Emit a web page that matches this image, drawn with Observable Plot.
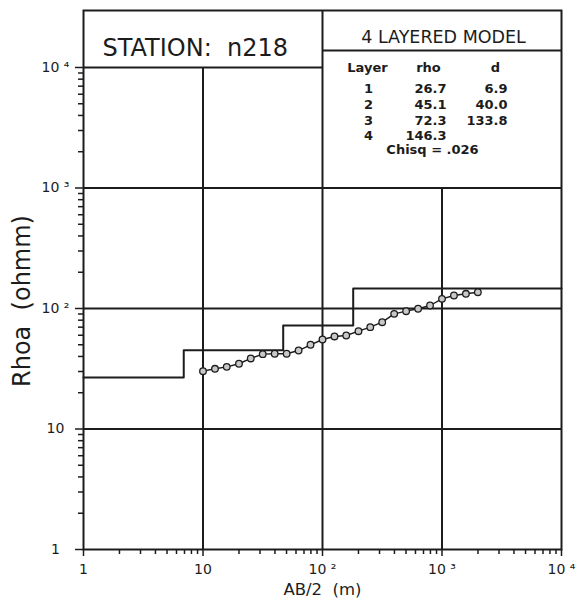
<!DOCTYPE html>
<html>
<head>
<meta charset="utf-8">
<script src="https://cdn.jsdelivr.net/npm/d3@7"></script>
<script src="https://cdn.jsdelivr.net/npm/@observablehq/plot@0.6"></script>
<style>
  html, body { margin: 0; padding: 0; background: #fff; }
  #chart svg { display: block; }
</style>
</head>
<body>
<div id="chart"></div>
<script>
// ---- data ----
const abHalf = [10, 12.6, 15.8, 20, 25.1, 31.6, 39.8, 50.1, 63.1, 79.4, 100, 126, 158, 200, 251, 316, 398, 501, 631, 794, 1000, 1259, 1585, 1995];
const rhoa   = [30.2, 31.6, 32.8, 34.8, 38.5, 41.8, 42.1, 42.1, 44.8, 50.0, 55.3, 58.6, 59.7, 64.8, 70.0, 77.0, 90.3, 95.0, 99.5, 105.9, 120.3, 128.2, 132.4, 136.5];

const layers   = [1, 2, 3, 4];
const layerRho = [26.7, 45.1, 72.3, 146.3];
const layerD   = [6.9, 40.0, 133.8];
const chisq    = ".026";
const station  = "n218";

const majorTicks  = [1, 10, 100, 1000, 10000];
const majorLabels = ["1", "10", "10 \u00B2", "10 \u00B3", "10 \u2074"];
const minorX = [1, 10, 100, 1000].flatMap(b => [2,3,4,5,6,7,8,9].map(m => m * b));
const minorY = [1, 10, 100, 1000].flatMap(b => [2,3,4,5,6,7,8,9].map(m => m * b));

const xTitle = "AB/2  (m)";
const yTitle = "Rhoa  (ohmm)";

// ---- derived tables ----
const obs = abHalf.map((x, i) => ({x, y: rhoa[i]}));
const xMin = 1, xMax = 1e4, yMin = 1, yMax = 10 ** 4.473;
// layer boundaries: cumulative thickness from the surface
const depths = [];
layerD.reduce((acc, d) => { const z = acc + d; depths.push(z); return z; }, 0);
const starts = [xMin, ...depths];
const steps = layerRho.map((r, i) => ({x: starts[i], y: r}));
steps.push({x: xMax, y: layerRho[layerRho.length - 1]});
const labelOf = new Map(majorTicks.map((t, i) => [t, majorLabels[i]]));

const ink = "#1c1c1c";
const F = "DejaVu Sans, Liberation Sans, sans-serif";
const one = [0];
const tbl = {frameAnchor: "top-left", lineAnchor: "top", fontSize: 13, fontWeight: "bold", fill: ink};

const plot = Plot.plot({
  width: 579,
  height: 605,
  marginLeft: 83,
  marginRight: 18,
  marginTop: 10,
  marginBottom: 56,
  x: {type: "log", domain: [xMin, xMax]},
  y: {type: "log", domain: [yMin, yMax]},
  style: {fontFamily: F, background: "#fff", color: ink},
  marks: [
    // grid
    Plot.ruleY([10, 100, 1000], {stroke: ink, strokeWidth: 2}),
    Plot.ruleY([1e4], {x1: 1, x2: 100, stroke: ink, strokeWidth: 2}),
    Plot.ruleX([10], {y1: 1, y2: 1e4, stroke: ink, strokeWidth: 2}),
    Plot.ruleX([100], {y1: 1, y2: yMax, stroke: ink, strokeWidth: 2}),
    Plot.ruleX([1000], {y1: 1, y2: 1000, stroke: ink, strokeWidth: 2}),
    Plot.ruleY([yMax], {x1: 100, x2: 1e4, dy: 40, stroke: ink, strokeWidth: 2}),
    Plot.frame({stroke: ink, strokeWidth: 2}),
    // axes
    Plot.axisX(majorTicks, {tickSize: 7, tickPadding: 8, fontSize: 14, tickFormat: d => labelOf.get(d), label: null, strokeWidth: 1.5}),
    Plot.axisX(minorX, {tickSize: 5, tickFormat: () => "", label: null, strokeWidth: 1.5}),
    Plot.axisY(majorTicks, {tickSize: 8, tickPadding: 20, textAnchor: "middle", fontSize: 14, tickFormat: d => labelOf.get(d), label: null, strokeWidth: 1.5}),
    Plot.axisY(minorY, {tickSize: 5, tickFormat: () => "", label: null, strokeWidth: 1.5}),
    // model
    Plot.line(steps, {x: "x", y: "y", curve: "step-after", stroke: ink, strokeWidth: 2}),
    // observed
    Plot.line(obs, {x: "x", y: "y", stroke: ink, strokeWidth: 1.4}),
    Plot.dot(obs, {x: "x", y: "y", r: 3.3, fill: "#c8c8c8", stroke: ink, strokeWidth: 1.3}),
    // titles
    Plot.text(one, {frameAnchor: "bottom", text: () => xTitle, textAnchor: "middle", dy: 45, fontSize: 16.5, fill: ink}),
    Plot.text(one, {frameAnchor: "left", text: () => yTitle, textAnchor: "middle", rotate: -90, dx: -61, dy: 21, fontSize: 24, fill: ink}),
    // station label
    Plot.text(one, {frameAnchor: "top-left", text: () => "STATION:  " + station, textAnchor: "start", lineAnchor: "top", dx: 19, dy: 28, fontSize: 24, fill: ink}),
    // model legend
    Plot.text(one, {frameAnchor: "top-left", text: () => layers.length + " LAYERED MODEL", textAnchor: "middle", lineAnchor: "top", dx: 360, dy: 20, fontSize: 17.5, fill: ink}),
    Plot.text(one, {...tbl, text: () => "Layer", textAnchor: "middle", dx: 284, dy: 52}),
    Plot.text(one, {...tbl, text: () => "rho", textAnchor: "middle", dx: 345, dy: 52}),
    Plot.text(one, {...tbl, text: () => "d", textAnchor: "middle", dx: 412, dy: 52}),
    Plot.text(one, {...tbl, text: () => layers.join("\n"), textAnchor: "middle", lineHeight: 1.21, dx: 285, dy: 71.5}),
    Plot.text(one, {...tbl, text: () => layerRho.map(v => v.toFixed(1)).join("\n"), textAnchor: "end", lineHeight: 1.21, dx: 363, dy: 71.5}),
    Plot.text(one, {...tbl, text: () => layerD.map(v => v.toFixed(1)).join("\n"), textAnchor: "end", lineHeight: 1.21, dx: 424, dy: 71.5}),
    Plot.text(one, {...tbl, text: () => "Chisq = " + chisq, textAnchor: "middle", dx: 349, dy: 134.5})
  ]
});
document.getElementById("chart").appendChild(plot);
</script>
</body>
</html>
